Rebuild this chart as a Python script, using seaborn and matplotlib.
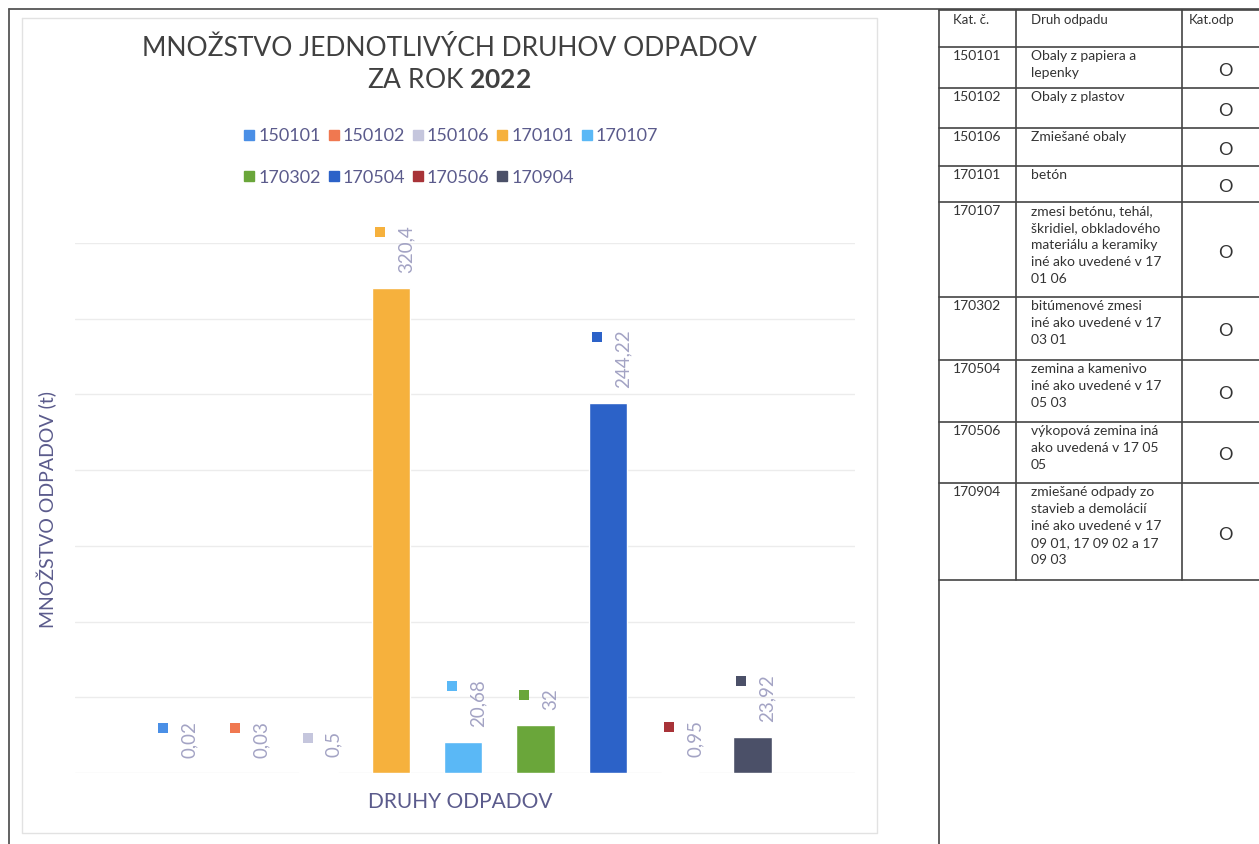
import seaborn as sns
import pandas as pd
import matplotlib.pyplot as plt
from matplotlib.lines import Line2D

codes = ['150101', '150102', '150106', '170101', '170107',
         '170302', '170504', '170506', '170904']
amounts = [0.02, 0.03, 0.5, 320.4, 20.68, 32, 244.22, 0.95, 23.92]
labels = ['0,02', '0,03', '0,5', '320,4', '20,68', '32', '244,22', '0,95', '23,92']
colors = ['#4a8fe6', '#f07850', '#c5c6dd', '#f6b13d', '#5ab8f6',
          '#6aa63a', '#2c62c8', '#a83338', '#4b5068']

descriptions = [
    'Obaly z papiera a\nlepenky',
    'Obaly z plastov',
    'Zmiešané obaly',
    'betón',
    'zmesi betónu, tehál,\nškridiel, obkladového\nmateriálu a keramiky\niné ako uvedené v 17\n01 06',
    'bitúmenové zmesi\niné ako uvedené v 17\n03 01',
    'zemina a kamenivo\niné ako uvedené v 17\n05 03',
    'výkopová zemina iná\nako uvedená v 17 05\n05',
    'zmiešané odpady zo\nstavieb a demolácií\niné ako uvedené v 17\n09 01, 17 09 02 a 17\n09 03',
]
category = ['O'] * 9
row_lines = [10, 47, 88, 128, 166, 202, 297, 360, 422, 483, 580]

df = pd.DataFrame({'kod': codes, 'mnozstvo': amounts})

sns.set_style('white')
plt.rcParams['font.family'] = ['Lato', 'DejaVu Sans']
plt.rcParams['mathtext.fontset'] = 'custom'
plt.rcParams['mathtext.rm'] = 'Lato'
plt.rcParams['mathtext.bf'] = 'Lato:bold'

W, H = 1259, 844
fig = plt.figure(figsize=(W / 100, H / 100), dpi=100)

# page overlay for frames and the table (pixel coordinates)
page = fig.add_axes([0, 0, 1, 1])
page.set_xlim(0, W)
page.set_ylim(H, 0)
page.axis('off')
page.plot([9, W], [9, 9], color='#555555', lw=1.3)
page.plot([9, 9], [9, H], color='#555555', lw=1.3)
page.plot([22, 877, 877, 22, 22], [18, 18, 833, 833, 18], color='#e2e2e2', lw=1)

# table
tx = [939, 1016, 1182]
page.plot([939, 939], [10, H], color='#444444', lw=1.2)
for x in tx[1:]:
    page.plot([x, x], [10, 580], color='#444444', lw=1.2)
for y in row_lines:
    page.plot([939, W], [y, y], color='#444444', lw=1.2)
tcol = '#333333'
page.text(953, 14, 'Kat. č.', fontsize=9.5, color=tcol, va='top')
page.text(1031, 14, 'Druh odpadu', fontsize=9.5, color=tcol, va='top')
page.text(1189, 14, 'Kat.odp', fontsize=9.5, color=tcol, va='top')
for i, code in enumerate(codes):
    top, bot = row_lines[i + 1], row_lines[i + 2]
    page.text(953, top + 3, code, fontsize=10, color=tcol, va='top')
    page.text(1031, top + 3, descriptions[i], fontsize=10, color=tcol, va='top',
              linespacing=1.5)
    page.text(1225, (top + bot) / 2 + 3, category[i], fontsize=13, color=tcol,
              va='center', ha='center')

# bar chart
ax = fig.add_axes([75 / W, 1 - 773 / H, 780 / W, 530 / H])
sns.barplot(data=df, x='kod', y='mnozstvo', hue='kod', palette=colors,
            legend=False, width=0.53, saturation=1, ax=ax)
ax.set_ylim(0, 350)
ax.set_xlim(-1.37, 9.42)
ax.set_yticks(range(0, 351, 50))
ax.yaxis.grid(True, color='#ececec', lw=1)
ax.set_axisbelow(True)
ax.set_xticks([])
ax.tick_params(left=False, labelleft=False)
ax.set_xlabel('')
ax.set_ylabel('')
for s in ax.spines.values():
    s.set_visible(False)
ax.patch.set_alpha(0)

label_col = '#a3a3c4'
texts = []
for i, v in enumerate(amounts):
    t = ax.annotate(labels[i], xy=(i, v), xytext=(15, 15), textcoords='offset pixels',
                    rotation=90, ha='center', va='bottom', fontsize=13.5,
                    color=label_col)
    texts.append(t)

fig.canvas.draw()
inv = ax.transData.inverted()
for i, t in enumerate(texts):
    bb = t.get_window_extent()
    cx = ax.transData.transform((i, 0))[0]
    mx, my = inv.transform((cx - 11, bb.y1 - 7))
    ax.scatter([mx], [my], marker='s', s=55, color=colors[i], clip_on=False,
               linewidths=0)

# titles
tc = '#404040'
fig.text(449 / W, 1 - 49 / H, 'MNOŽSTVO JEDNOTLIVÝCH DRUHOV ODPADOV', ha='center',
         va='center', fontsize=19, color=tc)
fig.text(449 / W, 1 - 81 / H, 'ZA ROK $\\mathbf{2022}$', ha='center', va='center',
         fontsize=19, color=tc)

lc = '#5b5b8c'
fig.text(47 / W, 1 - 510 / H, 'MNOŽSTVO ODPADOV (t)', rotation=90, ha='center',
         va='center', fontsize=14, color=lc)
fig.text(460 / W, 1 - 802 / H, 'DRUHY ODPADOV', ha='center', va='center',
         fontsize=15, color=lc)

# legend filled row by row (matplotlib fills column-wise)
order = [0, 5, 1, 6, 2, 7, 3, 8, 4]
handles = [Line2D([], [], marker='s', ls='none', color=colors[k], markersize=7)
           for k in order]
fig.legend(handles, [codes[k] for k in order], loc='upper left',
           bbox_to_anchor=(226 / W, 1 - 112 / H), ncol=5, frameon=False,
           fontsize=13, labelcolor=lc, handletextpad=0.1, columnspacing=0.3,
           labelspacing=1.4, handlelength=0.8)

plt.savefig('out.png', dpi=100)
